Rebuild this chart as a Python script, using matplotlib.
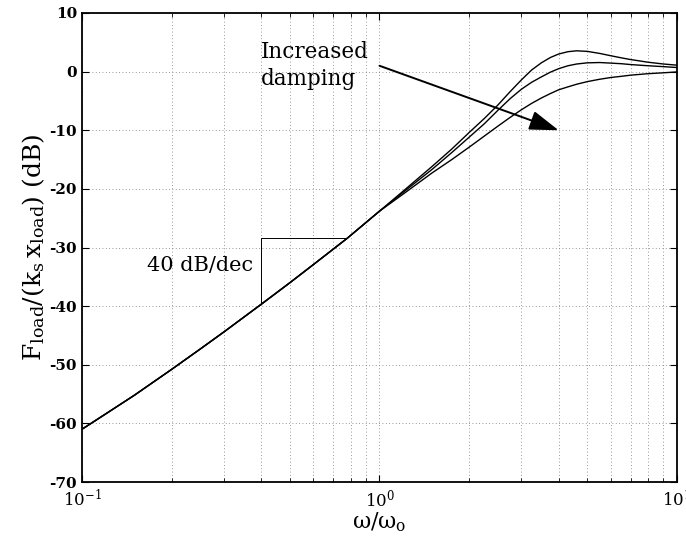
import matplotlib
matplotlib.use("Agg")
import matplotlib.pyplot as plt
from matplotlib.ticker import FixedLocator, FixedFormatter, NullFormatter

plt.rcParams['font.family'] = 'DejaVu Serif'
plt.rcParams['mathtext.fontset'] = 'dejavuserif'
plt.rcParams['axes.unicode_minus'] = False

# values
freq = [0.1, 0.12, 0.15, 0.2, 0.25, 0.3, 0.4, 0.5, 0.6, 0.78,
        1.0, 1.2, 1.5, 1.75, 2.0, 2.25, 2.5, 2.75, 3.0, 3.25, 3.5, 3.75,
        4.0, 4.3, 4.6, 5.0, 5.5, 6.0, 6.5, 7.0, 8.0, 9.0, 10.0]
low_damp = [-61.0, -58.4, -55.2, -50.8, -47.3, -44.4, -39.7, -36.0, -32.9, -28.4,
            -23.8, -20.4, -16.2, -13.2, -10.4, -8.0, -5.7, -3.4, -1.4, 0.3, 1.5, 2.4,
            3.0, 3.4, 3.55, 3.45, 3.1, 2.7, 2.35, 2.05, 1.6, 1.3, 1.1]
mid_damp = [-61.0, -58.4, -55.2, -50.8, -47.3, -44.4, -39.7, -36.0, -32.9, -28.4,
            -23.8, -20.6, -16.7, -13.8, -11.2, -8.9, -6.6, -4.6, -3.0, -1.8, -0.9, -0.1,
            0.5, 1.0, 1.3, 1.5, 1.55, 1.45, 1.35, 1.2, 1.0, 0.85, 0.7]
high_damp = [-61.0, -58.4, -55.2, -50.8, -47.3, -44.4, -39.7, -36.0, -32.9, -28.4,
             -23.8, -20.9, -17.3, -15.0, -12.9, -11.0, -9.3, -7.8, -6.5, -5.4, -4.5, -3.75,
             -3.1, -2.6, -2.15, -1.7, -1.3, -1.0, -0.8, -0.6, -0.35, -0.2, -0.05]

# slope triangle
tri_x = [0.4, 0.4, 0.77]
tri_y = [-39.7, -28.4, -28.4]

yticks = [-70, -60, -50, -40, -30, -20, -10, 0, 10]
xticks = [0.1, 1, 10]
xlabels = [r'$10^{-1}$', r'$10^{0}$', r'$10^{1}$']

fig = plt.figure(figsize=(6.86, 5.46), dpi=100)
ax = fig.add_axes([0.1195, 0.1172, 0.8674, 0.859])

for g in (low_damp, mid_damp, high_damp):
    ax.semilogx(freq, g, color='black', lw=1.0)

ax.plot(tri_x, tri_y, color='black', lw=0.7)

ax.set_xlim(0.1, 10)
ax.set_ylim(-70, 10)

ax.xaxis.set_major_locator(FixedLocator(xticks))
ax.xaxis.set_major_formatter(FixedFormatter(xlabels))
ax.xaxis.set_minor_formatter(NullFormatter())
ax.set_yticks(yticks)
ax.set_yticklabels([str(v) for v in yticks], fontweight='bold')

ax.grid(True, which='both', color='#777777', linestyle=(0, (1, 3)), lw=0.6)
ax.tick_params(which='both', direction='in', top=True, right=True)
ax.tick_params(which='major', length=5, labelsize=11)
ax.tick_params(axis='x', which='major', pad=5, labelsize=12)
ax.tick_params(which='minor', length=3)
for s in ax.spines.values():
    s.set_linewidth(1.3)

ax.set_xlabel('\u03c9/\u03c9$_\\mathrm{o}$', fontsize=16, labelpad=0)
ax.set_ylabel(r'$\mathrm{F_{load}/(k_s\,x_{load})}$ (dB)', fontsize=18, labelpad=2)

ax.text(0.4, 1.0, 'Increased\ndamping', fontsize=15.5, ha='left', va='center',
        linespacing=1.3)
ax.annotate('', xy=(4.0, -10.0), xytext=(1.0, 1.0),
            arrowprops=dict(arrowstyle='-|>,head_length=0.9,head_width=0.3',
                            mutation_scale=20, color='black', lw=1.4,
                            shrinkA=0, shrinkB=0))
ax.text(0.375, -33.0, '40 dB/dec', fontsize=15, ha='right', va='center')

fig.savefig('out.png', dpi=100)
